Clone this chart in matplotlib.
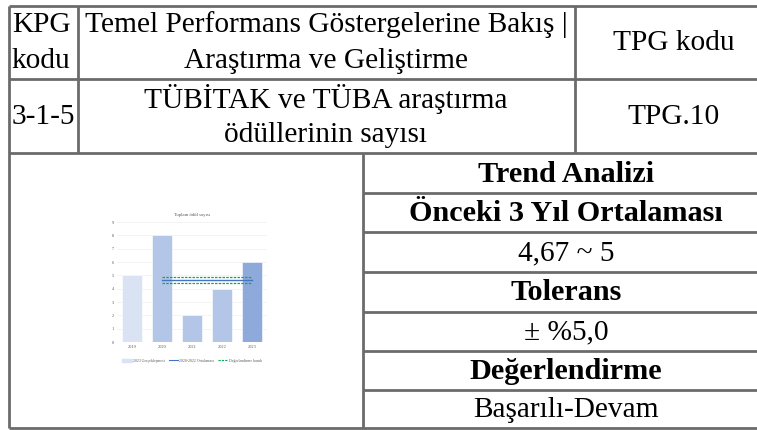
import matplotlib
matplotlib.use("Agg")
import matplotlib.pyplot as plt
from matplotlib.lines import Line2D
from matplotlib.patches import Patch

# mini chart data
years = ['2019', '2020', '2021', '2022', '2023']
awards = [5, 8, 2, 4, 6]
bar_colors = ['#dae3f3', '#b4c6e7', '#b4c6e7', '#b4c6e7', '#8eaadb']
avg_prev3 = 4.67
tolerance = 0.05

# table texts
kpg_code = ['KPG', 'kodu']
kpg_title = ['Temel Performans Göstergelerine Bakış |', 'Araştırma ve Geliştirme']
tpg_header = 'TPG kodu'
row_code = '3-1-5'
row_title = ['TÜBİTAK ve TÜBA araştırma', 'ödüllerinin sayısı']
tpg_code = 'TPG.10'
right_cells = ['Trend Analizi', 'Önceki 3 Yıl Ortalaması', '4,67 ~ 5', 'Tolerans',
               '± %5,0', 'Değerlendirme', 'Başarılı-Devam']
right_bold = [True, True, False, True, False, True, False]

W, H = 757, 430
fig = plt.figure(figsize=(W / 100, H / 100), dpi=100)
bg = fig.add_axes([0, 0, 1, 1])
bg.set_xlim(0, W)
bg.set_ylim(H, 0)
bg.axis('off')

line_col = '#6b6b6b'
lw = 2.0


def hline(y, x0, x1):
    bg.plot([x0, x1], [y, y], color=line_col, lw=lw, solid_capstyle='butt')


def vline(x, y0, y1):
    bg.plot([x, x], [y0, y1], color=line_col, lw=lw, solid_capstyle='butt')


# grid of the table
hline(6, 9, W)
hline(79, 9, W)
hline(153, 9, W)
hline(428, 9, W)
vline(9, 6, 428)
vline(78, 6, 153)
vline(575, 6, 153)
vline(363, 153, 428)
row_edges = [153, 193, 232, 272, 312, 351, 390, 428]
for y in row_edges[1:-1]:
    hline(y, 363, W)

fs = 21.2
fs_bold = 21.8
serif = 'Liberation Serif'

bg.text(12, 25, kpg_code[0], fontsize=fs, family=serif, va='center', ha='left')
bg.text(12, 61, kpg_code[1], fontsize=fs, family=serif, va='center', ha='left')
bg.text(326, 25, kpg_title[0], fontsize=fs, family=serif, va='center', ha='center')
bg.text(326, 61, kpg_title[1], fontsize=fs, family=serif, va='center', ha='center')
bg.text(674, 43, tpg_header, fontsize=fs, family=serif, va='center', ha='center')

bg.text(12, 117, row_code, fontsize=fs, family=serif, va='center', ha='left')
bg.text(326, 99, row_title[0], fontsize=fs, family=serif, va='center', ha='center')
bg.text(326, 135, row_title[1], fontsize=fs, family=serif, va='center', ha='center')
bg.text(674, 117, tpg_code, fontsize=fs, family=serif, va='center', ha='center')

for i, (txt, b) in enumerate(zip(right_cells, right_bold)):
    yc = (row_edges[i] + row_edges[i + 1]) / 2 + 1
    bg.text(566, yc, txt, fontsize=fs_bold if b else fs, family=serif, va='center', ha='center',
            fontweight='bold' if b else 'normal')

# embedded mini chart
ax = fig.add_axes([117 / W, (H - 342) / H, 150 / W, 120 / H])
x = list(range(len(years)))
ax.bar(x, awards, width=0.67, color=bar_colors, edgecolor='white', linewidth=0.4, zorder=2)
ax.plot([1, 4], [avg_prev3, avg_prev3], color='#4472c4', lw=1.0, zorder=3)
ax.plot([1, 4], [avg_prev3 * (1 + tolerance)] * 2, color='#00b050', lw=0.9, ls=(0, (2, 1)), zorder=3)
ax.plot([1, 4], [avg_prev3 * (1 - tolerance)] * 2, color='#00b050', lw=0.9, ls=(0, (2, 1)), zorder=3)
ax.set_xlim(-0.5, 4.5)
ax.set_ylim(0, 9)
ax.set_yticks(range(10))
ax.set_xticks(x)
ax.set_xticklabels(years)
ax.tick_params(labelsize=3.2, length=0, pad=2, colors='#595959')
ax.grid(axis='y', color='#f0f0f0', lw=0.5, zorder=0)
for s in ax.spines.values():
    s.set_visible(False)
ax.set_title('Toplam ödül sayısı', fontsize=3.4, family=serif, color='#595959', pad=4)
for lbl in ax.get_xticklabels() + ax.get_yticklabels():
    lbl.set_family(serif)
handles = [Patch(color='#dae3f3', label='2023 Gerçekleşmesi'),
           Line2D([], [], color='#4472c4', lw=0.8, label='2020-2022 Ortalaması'),
           Line2D([], [], color='#00b050', lw=0.8, ls=(0, (2, 1)), label='Değerlendirme bandı')]
leg = ax.legend(handles=handles, loc='upper center', bbox_to_anchor=(0.5, -0.11), ncol=3,
                fontsize=2.6, frameon=False, handlelength=2.5, columnspacing=1.0, handletextpad=0.3,
                prop={'family': serif, 'size': 2.8})
for t in leg.get_texts():
    t.set_color('#595959')

fig.savefig('out.png', dpi=100)
